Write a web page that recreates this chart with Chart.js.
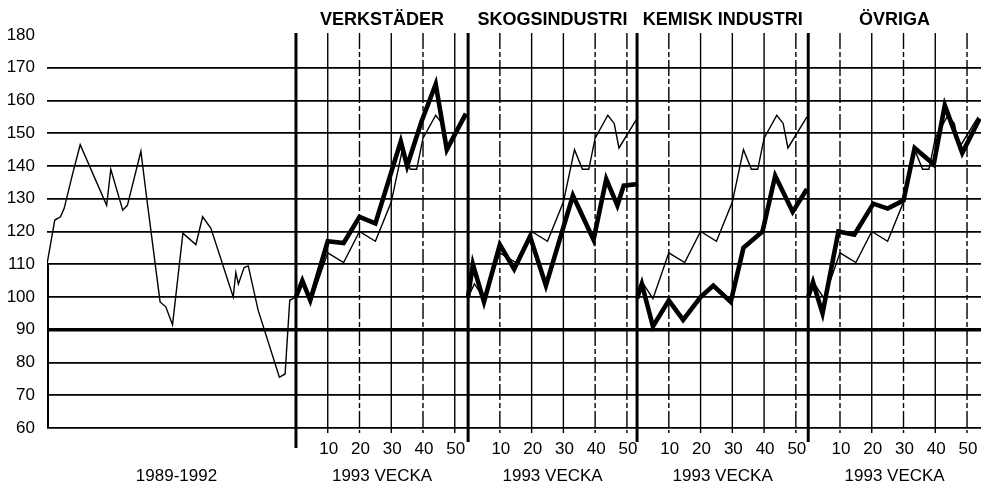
<!DOCTYPE html>
<html>
<head>
<meta charset="utf-8">
<script src="https://cdn.jsdelivr.net/npm/chart.js@4/dist/chart.umd.min.js"></script>
<style>
  html, body { margin: 0; padding: 0; background: #fff; }
</style>
</head>
<body>
<canvas id="indexChart" width="981" height="485"></canvas>
<script>
// --- data ---
const panelTitles = ['VERKSTÄDER', 'SKOGSINDUSTRI', 'KEMISK INDUSTRI', 'ÖVRIGA'];
const periodLabel = '1989-1992';
const weekLabel = '1993 VECKA';
const weekTicks = [10, 20, 30, 40, 50];

// 1989-1992, position in months from jan 1989
const leftMonths = [0, 1.5, 2.6, 3.3, 5, 6.4, 11.5, 12.3, 14.6, 15.5, 18.1, 19.2, 21.8, 22.9, 24.2,
  26.2, 28.7, 30, 31.6, 35.9, 36.4, 36.9, 38, 38.8, 40.7, 44.8, 45.9, 46.8, 48];
const leftValues = [110, 123.5, 124.5, 127, 138, 146.5, 128, 139, 126.5, 128, 144.5, 130.5, 98.5, 97, 91.5,
  119.5, 116, 124.5, 121, 100, 107.5, 104, 109, 109.5, 96, 75.5, 76.5, 99, 100];

// 1993, total industry (thin line, repeated in every panel)
const totalWeeks = [0, 2, 5, 10, 15, 20, 25, 30, 33.5, 36, 38, 40, 44, 46, 47.5, 53.5];
const totalValues = [100, 104, 99.5, 113.5, 110.5, 120, 117, 129, 145, 139, 139, 148.5, 155.5, 153, 145.5, 155];

// 1993, sectors (thick lines)
const verkWeeks = [0, 2, 4.5, 10, 15, 20, 25, 33, 35, 39.5, 44, 47.5, 53.5];
const verkValues = [100, 105, 99, 117, 116.5, 124.5, 122.5, 147.5, 140, 153.5, 165, 145, 156];
const skogWeeks = [0, 1.5, 5, 10, 14.5, 19.5, 24.5, 33, 39.5, 43.5, 47, 49, 53.5];
const skogValues = [100, 110, 98.5, 116, 108.5, 118.5, 103.5, 131, 117.5, 136, 128, 134, 134.5];
const kemWeeks = [0, 1.5, 5, 10, 14.5, 20, 24, 29.5, 33.5, 39.5, 43.5, 49, 53.5];
const kemValues = [99.5, 104, 91, 99, 93, 100, 103.5, 98.5, 115, 120, 137, 126, 133];
const ovrWeeks = [0, 1.5, 4.5, 9.5, 14.5, 20.5, 25, 30, 33.5, 39.5, 43, 48.5, 54];
const ovrValues = [100, 104.5, 95, 120, 119, 128.5, 127, 129.5, 145.5, 140.5, 158.5, 144, 154.5];

// --- layout (x axis in weeks, 1993 panel 1 starts at 0) ---
const xMin = -78.4;
const xMax = 215.7;
const panelStarts = [0, 54.2, 107.4, 161.3];
const panelEnd = 215.7;
const dashedWeekLines = [
  [false, true, false, true, false],
  [true, false, false, true, true],
  [true, false, false, false, true],
  [true, false, true, false, true],
];
const FONT = 'Liberation Sans, Arial, sans-serif';

const leftPoints = leftMonths.map((m, i) => ({ x: xMin + m * (-xMin) / 48, y: leftValues[i] }));
const panelPoints = (p, weeks, vals) => weeks.map((w, i) => ({ x: panelStarts[p] + w, y: vals[i] }));

const sectors = [
  [verkWeeks, verkValues],
  [skogWeeks, skogValues],
  [kemWeeks, kemValues],
  [ovrWeeks, ovrValues],
];

const datasets = [{
  label: periodLabel,
  data: leftPoints,
  borderColor: '#000',
  borderWidth: 1.4,
  order: 1,
}];
sectors.forEach(([w, v], p) => {
  datasets.push({
    label: 'Totalt ' + panelTitles[p],
    data: panelPoints(p, totalWeeks, totalValues),
    borderColor: '#000',
    borderWidth: 1.4,
    order: 1,
  });
  datasets.push({
    label: panelTitles[p],
    data: panelPoints(p, w, v),
    borderColor: '#000',
    borderWidth: 4.6,
    borderJoinStyle: 'miter',
    order: 0,
  });
});

const panelDecor = {
  id: 'panelDecor',
  beforeDatasetsDraw(chart) {
    const ctx = chart.ctx;
    const xs = chart.scales.x;
    const ys = chart.scales.y;
    const top = ys.getPixelForValue(180) - 2;
    const bottom = ys.getPixelForValue(60);
    ctx.save();
    ctx.strokeStyle = '#000';
    // left border below the first value
    const lx = xs.getPixelForValue(xMin) + 1;
    ctx.lineWidth = 2;
    ctx.beginPath();
    ctx.moveTo(lx, ys.getPixelForValue(leftValues[0]));
    ctx.lineTo(lx, bottom);
    ctx.stroke();
    panelStarts.forEach((start, p) => {
      // thin week lines
      weekTicks.forEach((w, i) => {
        const x = xs.getPixelForValue(start + w);
        ctx.lineWidth = 1.4;
        ctx.setLineDash(dashedWeekLines[p][i] ? [16, 3, 5, 3] : []);
        ctx.beginPath();
        ctx.moveTo(x, top);
        ctx.lineTo(x, bottom + 5);
        ctx.stroke();
      });
      ctx.setLineDash([]);
      // panel separator
      const x0 = xs.getPixelForValue(start);
      ctx.lineWidth = 3;
      ctx.beginPath();
      ctx.moveTo(x0, top);
      ctx.lineTo(x0, bottom + (p === 0 ? 20 : 14));
      ctx.stroke();
    });
    ctx.restore();
  },
  afterDraw(chart) {
    const ctx = chart.ctx;
    const xs = chart.scales.x;
    ctx.save();
    ctx.fillStyle = '#000';
    ctx.textAlign = 'center';
    ctx.textBaseline = 'middle';
    panelStarts.forEach((start, p) => {
      const end = p < panelStarts.length - 1 ? panelStarts[p + 1] : panelEnd;
      const cx = (xs.getPixelForValue(start) + xs.getPixelForValue(end)) / 2;
      ctx.font = 'bold 18px ' + FONT;
      ctx.fillText(panelTitles[p], cx, 20);
      ctx.font = '17px ' + FONT;
      weekTicks.forEach(w => ctx.fillText(String(w), xs.getPixelForValue(start + w) + 1, 449));
      ctx.fillText(weekLabel, cx, 476);
    });
    const lx = (xs.getPixelForValue(xMin) + xs.getPixelForValue(panelStarts[0])) / 2 + 5;
    ctx.fillText(periodLabel, lx, 476);
    ctx.restore();
  }
};

new Chart(document.getElementById('indexChart'), {
  type: 'line',
  data: { datasets },
  options: {
    responsive: false,
    animation: false,
    devicePixelRatio: 1,
    elements: {
      point: { radius: 0 },
      line: { tension: 0, fill: false },
    },
    layout: { padding: { top: 35, bottom: 57, left: 0, right: 0 } },
    plugins: {
      legend: { display: false },
      tooltip: { enabled: false },
      title: { display: false },
    },
    scales: {
      x: { type: 'linear', min: xMin, max: xMax, display: false },
      y: {
        min: 60,
        max: 180,
        ticks: {
          stepSize: 10,
          color: '#000',
          padding: 12,
          font: { family: FONT, size: 17 },
        },
        grid: {
          drawTicks: false,
          color: c => c.tick && c.tick.value === 180 ? 'rgba(0,0,0,0)' : '#000',
          lineWidth: c => c.tick && c.tick.value === 90 ? 3.4 : 1.8,
        },
        border: { display: false },
        afterFit: s => { s.width = 47; },
      },
    },
  },
  plugins: [panelDecor],
});
</script>
</body>
</html>
